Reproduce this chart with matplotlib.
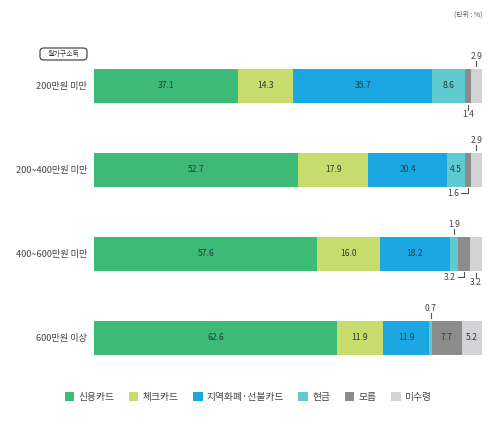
import numpy as np
import matplotlib.pyplot as plt
from matplotlib.patches import FancyBboxPatch

plt.rcParams['font.family'] = ['Noto Sans CJK KR', 'DejaVu Sans']

groups = ['200만원 미만', '200~400만원 미만', '400~600만원 미만', '600만원 이상']
series = ['신용카드', '체크카드', '지역화폐·선불카드', '현금', '모름', '미수령']
credit = [37.1, 52.7, 57.6, 62.6]
check = [14.3, 17.9, 16.0, 11.9]
local = [35.7, 20.4, 18.2, 11.9]
cash = [8.6, 4.5, 1.9, 0.7]
unknown = [1.4, 1.6, 3.2, 7.7]
notrecv = [2.9, 2.9, 3.2, 5.2]
colors = ['#3dba78', '#c8dc6e', '#1ba8e2', '#5fcbd0', '#8c8c8c', '#d3d3d5']

values = np.array([credit, check, local, cash, unknown, notrecv])

fig = plt.figure(figsize=(5, 4.26), dpi=100)
ax = fig.add_axes([94 / 500, (426 - 380) / 426, 388 / 500, 336 / 426])
ax.set_xlim(0, 100)
ax.set_ylim(3.5, -0.5)
ax.axis('off')

y = np.arange(len(groups))
left = np.zeros(len(groups))
for k in range(len(series)):
    ax.barh(y, values[k], left=left, height=0.405, color=colors[k], label=series[k])
    for i in range(len(groups)):
        v = values[k][i]
        if v >= 4:
            ax.text(left[i] + v / 2, y[i], f'{v:.1f}', ha='center', va='center',
                    fontsize=6.2, color='#2b3a3a')
    left += values[k]

tc = '#444444'
lc = '#555555'
cum = np.cumsum(values, axis=0)
half = 0.405 / 2


def above(i, k):
    x = cum[k][i] - values[k][i] / 2
    ax.plot([x, x], [y[i] - half - 0.03, y[i] - half - 0.09], color=lc, lw=0.8)
    ax.text(x, y[i] - half - 0.1, f'{values[k][i]:.1f}', ha='center', va='bottom',
            fontsize=6.2, color=tc)


def below(i, k):
    x = cum[k][i] - values[k][i] / 2
    ax.plot([x, x], [y[i] + half + 0.02, y[i] + half + 0.08], color=lc, lw=0.8)
    ax.text(x, y[i] + half + 0.085, f'{values[k][i]:.1f}', ha='center', va='top',
            fontsize=6.2, color=tc)


def elbow(i, k):
    x = cum[k][i] - values[k][i] / 2
    yb = y[i] + half + 0.01
    ax.plot([x, x, x - 1.6], [yb, yb + 0.06, yb + 0.06], color=lc, lw=0.8)
    ax.text(x - 2.1, yb + 0.07, f'{values[k][i]:.1f}', ha='right', va='center',
            fontsize=6.2, color=tc)


above(0, 5)
below(0, 4)
above(1, 5)
elbow(1, 4)
above(2, 3)
elbow(2, 4)
below(2, 5)
above(3, 3)

for i, g in enumerate(groups):
    ax.text(-1.8, y[i], g, ha='right', va='center', fontsize=6.6, color=tc)

box = FancyBboxPatch((40 / 500, (426 - 60) / 426), 47 / 500, 12 / 426,
                     boxstyle='round,pad=0,rounding_size=0.008', transform=fig.transFigure,
                     facecolor='white', edgecolor='#333333', lw=0.8)
fig.patches.append(box)
fig.text(63.5 / 500, (426 - 54) / 426, '월가구소득', ha='center', va='center',
         fontsize=5, color='#333333')

fig.text(483 / 500, (426 - 15) / 426, '(단위 : %)', ha='right', va='center',
         fontsize=5, color='#555555')

handles, labels = ax.get_legend_handles_labels()
fig.legend(handles, labels, loc='center', bbox_to_anchor=(248 / 500, (426 - 397) / 426),
           ncol=6, frameon=False, fontsize=7, handlelength=1.0, handleheight=1.0,
           handletextpad=0.4, columnspacing=1.5, labelcolor='#444444')

fig.savefig('out.png', dpi=100, facecolor='white')
